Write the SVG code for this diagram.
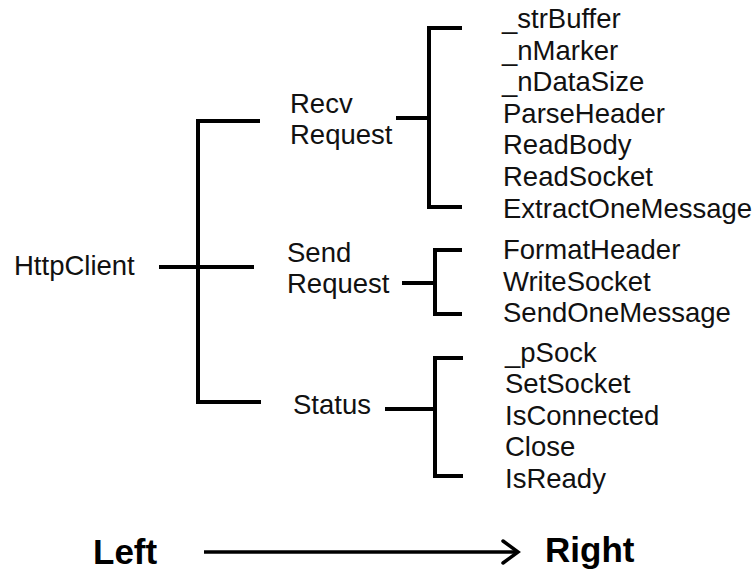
<svg xmlns="http://www.w3.org/2000/svg" width="756" height="571" viewBox="0 0 756 571">
<style>
.t{font-family:"Liberation Sans",Arial,sans-serif;font-size:27.5px;fill:#111}
.b{font-family:"Liberation Sans",Arial,sans-serif;font-size:35px;font-weight:bold;fill:#000}
.ln{stroke:#000;stroke-width:4;fill:none;stroke-linecap:square}
</style>
<rect width="756" height="571" fill="#fff"/>
<g id="connectors">
<path class="ln" d="M258,121 H198 V402 H259"/>
<path class="ln" d="M161,267 H252"/>
<path class="ln" d="M460,28 H429 V207 H460"/>
<path class="ln" d="M398,118 H429"/>
<path class="ln" d="M460,250 H435 V314 H460"/>
<path class="ln" d="M404,283 H435"/>
<path class="ln" d="M461,358 H435 V476 H461"/>
<path class="ln" d="M387,409 H435"/>
</g>
<g id="root"><text class="t" x="14" y="275">HttpClient</text></g>
<g id="recv">
<text class="t" x="290" y="113">Recv</text>
<text class="t" x="290" y="143.5">Request</text>
</g>
<g id="recv-items">
<text class="t" x="502" y="28">_strBuffer</text>
<text class="t" x="502" y="59.6">_nMarker</text>
<text class="t" x="502" y="91.2">_nDataSize</text>
<text class="t" x="503" y="122.8">ParseHeader</text>
<text class="t" x="503" y="154.4">ReadBody</text>
<text class="t" x="503" y="186">ReadSocket</text>
<text class="t" x="503" y="217.6">ExtractOneMessage</text>
</g>
<g id="send">
<text class="t" x="287" y="262">Send</text>
<text class="t" x="287" y="293">Request</text>
</g>
<g id="send-items">
<text class="t" x="503" y="259">FormatHeader</text>
<text class="t" x="503" y="290.6">WriteSocket</text>
<text class="t" x="503" y="322.2">SendOneMessage</text>
</g>
<g id="status"><text class="t" x="293" y="414">Status</text></g>
<g id="status-items">
<text class="t" x="505" y="361.5">_pSock</text>
<text class="t" x="505" y="393">SetSocket</text>
<text class="t" x="505" y="424.7">IsConnected</text>
<text class="t" x="505" y="456.3">Close</text>
<text class="t" x="505" y="488">IsReady</text>
</g>
<g id="direction">
<text class="b" x="93" y="564">Left</text>
<path d="M204,552 H516" stroke="#000" stroke-width="3.5" fill="none"/>
<path d="M503,541 L518,552 L503,563" stroke="#000" stroke-width="3.5" fill="none" stroke-linecap="round" stroke-linejoin="miter"/>
<text class="b" x="545" y="562">Right</text>
</g>
</svg>
